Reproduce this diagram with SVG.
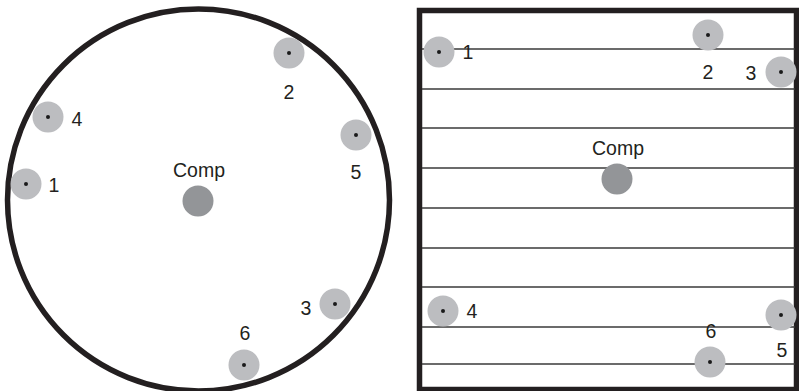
<svg xmlns="http://www.w3.org/2000/svg" width="799" height="391" viewBox="0 0 799 391">
<style>
.node{fill:#bcbdc0}
.dot{fill:#1a1a1a}
.comp{fill:#939598}
.lbl{font-family:"Liberation Sans",Arial,sans-serif;font-size:19.5px;fill:#231f20;text-anchor:middle}
.row{stroke:#3a3a3a;stroke-width:1.5}
.frame{fill:none;stroke:#231f20;stroke-width:5.5}
</style>
<rect width="799" height="391" fill="#ffffff"/>
<g id="left-plate">
<circle class="frame" cx="198.5" cy="200" r="191"/>
</g>
<g id="right-plate">
<rect class="frame" x="419.5" y="10.5" width="377" height="379"/>
</g>
<g id="connectors">
<line class="row" x1="422" y1="49" x2="795" y2="49"/>
<line class="row" x1="422" y1="89" x2="795" y2="89"/>
<line class="row" x1="422" y1="128" x2="795" y2="128"/>
<line class="row" x1="422" y1="168" x2="795" y2="168"/>
<line class="row" x1="422" y1="208" x2="795" y2="208"/>
<line class="row" x1="422" y1="248" x2="795" y2="248"/>
<line class="row" x1="422" y1="287" x2="795" y2="287"/>
<line class="row" x1="422" y1="327" x2="795" y2="327"/>
<line class="row" x1="422" y1="364" x2="795" y2="364"/>
</g>
<g id="L-comp"><circle class="comp" cx="198" cy="201" r="15.5"/><text class="lbl" x="199" y="177">Comp</text></g>
<g id="L-1"><circle class="node" cx="26" cy="184" r="15.5"/><circle class="dot" cx="26" cy="184" r="2"/><text class="lbl" x="54" y="192">1</text></g>
<g id="L-2"><circle class="node" cx="289" cy="53" r="15.5"/><circle class="dot" cx="289" cy="53" r="2"/><text class="lbl" x="289" y="99">2</text></g>
<g id="L-3"><circle class="node" cx="335" cy="304" r="15.5"/><circle class="dot" cx="335" cy="304" r="2"/><text class="lbl" x="306" y="315">3</text></g>
<g id="L-4"><circle class="node" cx="48" cy="117" r="15.5"/><circle class="dot" cx="48" cy="117" r="2"/><text class="lbl" x="77" y="126">4</text></g>
<g id="L-5"><circle class="node" cx="356" cy="135" r="15.5"/><circle class="dot" cx="356" cy="135" r="2"/><text class="lbl" x="356" y="179">5</text></g>
<g id="L-6"><circle class="node" cx="244" cy="365" r="15.5"/><circle class="dot" cx="244" cy="365" r="2"/><text class="lbl" x="245" y="340">6</text></g>
<g id="R-comp"><circle class="comp" cx="617" cy="179" r="15.5"/><text class="lbl" x="618" y="155">Comp</text></g>
<g id="R-1"><circle class="node" cx="439" cy="52" r="15.5"/><circle class="dot" cx="439" cy="52" r="2"/><text class="lbl" x="468" y="59">1</text></g>
<g id="R-2"><circle class="node" cx="708" cy="35" r="15.5"/><circle class="dot" cx="708" cy="35" r="2"/><text class="lbl" x="708" y="79">2</text></g>
<g id="R-3"><circle class="node" cx="781" cy="72" r="15.5"/><circle class="dot" cx="781" cy="72" r="2"/><text class="lbl" x="751" y="80">3</text></g>
<g id="R-4"><circle class="node" cx="443" cy="311" r="15.5"/><circle class="dot" cx="443" cy="311" r="2"/><text class="lbl" x="472" y="318">4</text></g>
<g id="R-5"><circle class="node" cx="781" cy="315" r="15.5"/><circle class="dot" cx="781" cy="315" r="2"/><text class="lbl" x="782" y="357">5</text></g>
<g id="R-6"><circle class="node" cx="710" cy="362" r="15.5"/><circle class="dot" cx="710" cy="362" r="2"/><text class="lbl" x="711" y="338">6</text></g>
</svg>
